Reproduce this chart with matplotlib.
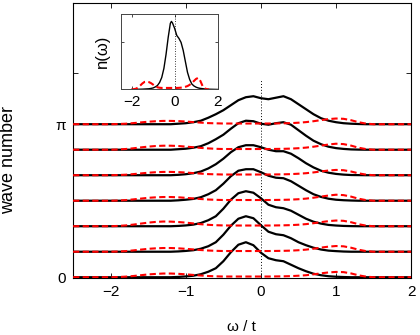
import numpy as np
import matplotlib
matplotlib.use("Agg")
import matplotlib.pyplot as plt

plt.rcParams['font.family'] = ['Liberation Sans', 'DejaVu Sans']

# ---------------- data ----------------
# frequency grid for the black spectra (omega / t)
omega_black = [-1.2, -1.1, -1.0, -0.9, -0.8, -0.7, -0.6, -0.5, -0.4, -0.3, -0.2, -0.1,
               0.0, 0.1, 0.2, 0.3, 0.4, 0.5, 0.6, 0.7, 0.8, 0.9, 1.0, 1.1, 1.2, 1.3, 1.4]
# black spectral functions, wave number k = 0 ... pi (arbitrary units)
black_k0 = [0, 0.3, 0.8, 1.5, 3, 5.5, 9, 16, 25, 32.5, 35, 32, 24.5, 19, 17, 16, 12.5, 9, 6, 3.5, 2, 1, 0.5, 0.2, 0, 0, 0]
black_k1 = [0, 0.3, 0.8, 1.5, 3, 5.5, 9.5, 17, 26, 33, 35.5, 33.5, 26.5, 20, 17.5, 16.5, 13.5, 9.5, 6.5, 4, 2.2, 1.1, 0.6, 0.2, 0, 0, 0]
black_k2 = [0, 0.3, 0.8, 1.6, 3.2, 6, 10, 17.5, 26.5, 33, 35, 33.5, 28, 21.5, 19, 18, 15.5, 11.5, 7.5, 4.5, 2.6, 1.3, 0.7, 0.3, 0.1, 0, 0]
black_k3 = [0, 0.4, 1, 1.8, 3.5, 6.5, 10.5, 17, 24.5, 30, 31.5, 31.5, 28.5, 25, 23, 22.5, 19.5, 15, 10.5, 6.5, 3.8, 2, 1, 0.5, 0.2, 0, 0]
black_k4 = [0, 0.4, 1, 2, 3.7, 6.8, 11, 16.5, 23, 28, 30, 30, 28, 25.5, 24, 24, 21.5, 17, 12, 7.8, 4.5, 2.5, 1.3, 0.6, 0.2, 0.1, 0]
black_k5 = [0, 0.5, 1, 2, 3.5, 6.5, 10.5, 15, 21, 26.5, 29, 28.5, 26, 25, 26.5, 27.5, 25, 19.5, 14, 9, 5.5, 3, 1.6, 0.8, 0.3, 0.1, 0]
black_k6 = [0, 0.5, 1, 2, 3.5, 6.5, 10, 14, 19, 24, 27, 28, 26, 25, 26.5, 28, 25, 20, 15, 10, 6, 3.5, 2, 1, 0.5, 0.2, 0]

# frequency grid for the red dashed spectra
omega_red = [-2.0, -1.9, -1.8, -1.7, -1.6, -1.5, -1.4, -1.3, -1.2, -1.1, -1.0, -0.9, -0.8, -0.7,
             -0.6, -0.5, -0.4, -0.3, -0.2, -0.1, 0.0, 0.1, 0.2, 0.3, 0.4, 0.5, 0.6, 0.7, 0.8,
             0.9, 1.0, 1.1, 1.2, 1.3, 1.4, 1.5]
red_k0 = [0, 0.2, 0.6, 1.2, 2.0, 2.8, 3.3, 3.7, 3.7, 3.4, 2.9, 2.3, 1.7, 1.2, 0.9, 0.7, 0.7, 0.7, 0.7, 0.7, 0.7, 0.7, 0.8, 0.9, 1.1, 1.5, 2.0, 2.9, 3.9, 4.8, 5.3, 5.1, 3.8, 1.9, 0.6, 0]
red_k1 = [0, 0.2, 0.6, 1.3, 2.1, 2.9, 3.4, 3.7, 3.7, 3.4, 2.9, 2.3, 1.7, 1.2, 0.9, 0.7, 0.7, 0.7, 0.7, 0.7, 0.7, 0.7, 0.8, 0.9, 1.1, 1.5, 2.1, 3.0, 4.1, 5.1, 5.7, 5.4, 4.0, 2.0, 0.6, 0]
red_k2 = [0, 0.3, 0.8, 1.6, 2.6, 3.6, 4.3, 4.7, 4.6, 4.2, 3.6, 2.8, 2.0, 1.4, 1.0, 0.8, 0.7, 0.7, 0.7, 0.7, 0.7, 0.7, 0.8, 0.9, 1.1, 1.5, 2.1, 3.0, 4.1, 5.1, 5.7, 5.4, 4.0, 2.0, 0.6, 0]
red_k3 = [0, 0.2, 0.6, 1.3, 2.1, 2.9, 3.4, 3.7, 3.7, 3.4, 2.9, 2.3, 1.7, 1.2, 0.9, 0.7, 0.7, 0.7, 0.7, 0.7, 0.7, 0.7, 0.8, 0.9, 1.1, 1.5, 2.1, 3.0, 4.1, 5.2, 6.0, 5.6, 4.1, 2.0, 0.6, 0]
red_k4 = [0, 0.2, 0.5, 1.1, 1.8, 2.5, 3.0, 3.3, 3.3, 3.1, 2.7, 2.1, 1.6, 1.1, 0.9, 0.7, 0.7, 0.7, 0.7, 0.7, 0.7, 0.7, 0.8, 0.9, 1.1, 1.5, 2.0, 2.8, 3.8, 4.7, 5.3, 5.0, 3.7, 1.9, 0.6, 0]
red_k5 = [0, 0.2, 0.7, 1.4, 2.3, 3.1, 3.7, 4.0, 4.0, 3.7, 3.1, 2.5, 1.8, 1.3, 0.9, 0.7, 0.7, 0.7, 0.7, 0.7, 0.7, 0.7, 0.8, 0.9, 1.1, 1.5, 2.1, 3.0, 4.1, 5.2, 6.0, 5.6, 4.1, 2.0, 0.6, 0]
red_k6 = [0, 0.2, 0.5, 1.1, 1.8, 2.5, 3.0, 3.3, 3.3, 3.1, 2.7, 2.1, 1.6, 1.1, 0.9, 0.7, 0.7, 0.7, 0.7, 0.7, 0.7, 0.7, 0.8, 0.9, 1.1, 1.5, 2.1, 3.0, 4.1, 5.1, 5.7, 5.4, 4.0, 2.0, 0.6, 0]

black_curves = [black_k0, black_k1, black_k2, black_k3, black_k4, black_k5, black_k6]
red_curves = [red_k0, red_k1, red_k2, red_k3, red_k4, red_k5, red_k6]
wave_numbers = [0, np.pi / 6, 2 * np.pi / 6, 3 * np.pi / 6, 4 * np.pi / 6, 5 * np.pi / 6, np.pi]

# inset: momentum-integrated n(omega)
inset_omega_black = [-2.0, -1.5, -1.2, -1.1, -1.0, -0.9, -0.8, -0.7, -0.6, -0.5, -0.4, -0.3, -0.2,
                     -0.15, -0.1, 0.0, 0.1, 0.2, 0.3, 0.4, 0.5, 0.6, 0.7, 0.8, 0.9, 1.0, 1.1, 1.2,
                     1.5, 2.0]
inset_black = [0, 0.003, 0.007, 0.011, 0.016, 0.027, 0.042, 0.074, 0.127, 0.223, 0.372, 0.552,
               0.701, 0.722, 0.706, 0.648, 0.573, 0.542, 0.499, 0.414, 0.297, 0.181, 0.106,
               0.058, 0.037, 0.024, 0.016, 0.011, 0.003, 0]
inset_omega_red = [-2.0, -1.9, -1.8, -1.7, -1.6, -1.5, -1.4, -1.3, -1.2, -1.1, -1.0, -0.9, -0.8,
                   -0.7, -0.6, -0.5, -0.4, -0.3, -0.2, -0.1, 0.0, 0.1, 0.2, 0.3, 0.4, 0.5, 0.6,
                   0.7, 0.8, 0.9, 1.0, 1.1, 1.2, 1.3, 1.4, 1.5, 1.6]
inset_red = [0, 0.003, 0.008, 0.021, 0.042, 0.064, 0.080, 0.083, 0.078, 0.067, 0.051, 0.034,
             0.023, 0.018, 0.016, 0.016, 0.016, 0.016, 0.016, 0.016, 0.016, 0.016, 0.017, 0.019,
             0.022, 0.028, 0.036, 0.049, 0.067, 0.090, 0.112, 0.123, 0.090, 0.037, 0.011, 0.003, 0]

x_ticks = [-2, -1, 0, 1, 2]
y_ticks = [0, np.pi, 4 * np.pi / 3]
y_ticklabels = ['0', 'π', '']
inset_x_ticks = [-2, 0, 2]
inset_y_ticks = [0, 0.5]

# ---------------- figure ----------------
XMIN, XMAX = -2.5, 2.0
SCALE = np.pi / 153.0   # intensity units -> wave-number axis units

fig = plt.figure(figsize=(4.2, 3.35), dpi=100)
ax = fig.add_axes([0.174, 0.171, 0.805, 0.820])

for k, curve in zip(wave_numbers, black_curves):
    x = [XMIN] + omega_black + [XMAX]
    y = k + SCALE * np.array([0] + curve + [0], dtype=float)
    ax.plot(x, y, color='black', lw=1.6, zorder=3, solid_joinstyle='round')

for k, curve in zip(wave_numbers, red_curves):
    x = [XMIN] + omega_red + [XMAX]
    y = k + SCALE * np.array([0] + curve + [0], dtype=float)
    ax.plot(x, y, color='#ff0000', lw=1.5, ls=(0, (3, 1.6)), zorder=4)

ax.plot([0, 0], [0, 4.07], color='black', lw=0.7, ls=(0, (1, 2)), zorder=2)

ax.set_xlim(XMIN, XMAX)
ax.set_ylim(-0.01, 5.63)
ax.set_xticks(x_ticks)
ax.set_xticklabels(['−2', '−1', '0', '1', '2'])
ax.set_yticks(y_ticks)
ax.set_yticklabels(y_ticklabels)
ax.tick_params(direction='in', top=True, right=True, length=3.5, width=0.6,
               labelsize=11, pad=5)
for s in ax.spines.values():
    s.set_linewidth(0.8)
ax.set_xlabel('ω / t', fontsize=11)
ax.xaxis.set_label_coords(0.497, -0.155)
ax.set_ylabel('wave number', fontsize=13)
ax.yaxis.set_label_coords(-0.165, 0.43)

# inset
axi = fig.add_axes([0.288, 0.733, 0.230, 0.225])
axi.plot(inset_omega_black, inset_black, color='black', lw=1.0, zorder=3)
axi.plot(inset_omega_red, inset_red, color='#ff0000', lw=1.5, ls=(0, (3, 1.6)), zorder=4)
axi.axvline(0, color='black', lw=0.6, ls=(0, (1, 2)), zorder=2)
axi.set_xlim(-2.5, 2.0)
axi.set_ylim(0, 0.8)
axi.set_xticks(inset_x_ticks)
axi.set_xticklabels(['−2', '0', '2'])
axi.set_yticks(inset_y_ticks)
axi.set_yticklabels([])
axi.tick_params(direction='in', top=True, right=True, length=2.5, width=0.5,
                labelsize=11, pad=4)
axi.tick_params(axis='y', which='both', left=True, right=True, length=2.5)
for s in axi.spines.values():
    s.set_linewidth(0.7)
    s.set_color('#444444')
axi.set_ylabel('n(ω)', fontsize=12, labelpad=4)

fig.savefig('out.png', dpi=100)
